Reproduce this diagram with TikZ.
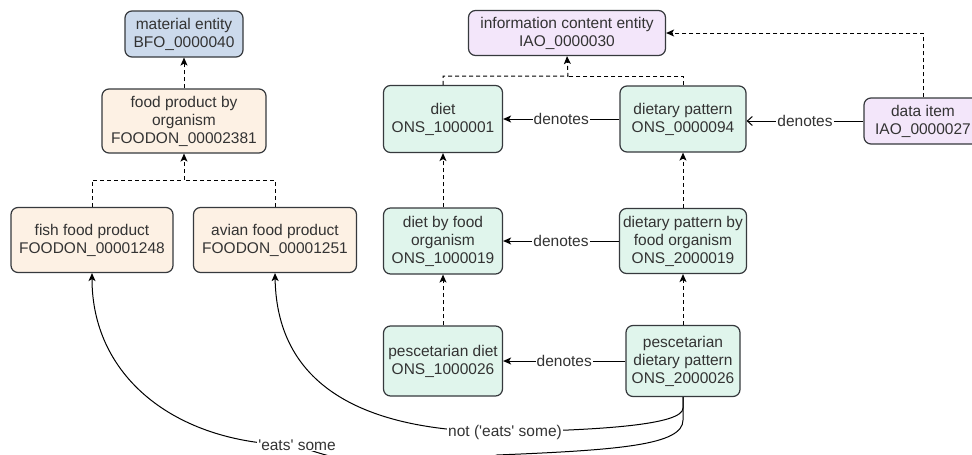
\documentclass[tikz,border=0pt]{standalone}
\usepackage{fontspec}
\setmainfont{Liberation Sans}
\usetikzlibrary{arrows,arrows.meta}
\definecolor{matfill}{HTML}{CCDAEC}
\definecolor{foodfill}{HTML}{FDF1E4}
\definecolor{infofill}{HTML}{F3E6FA}
\definecolor{dietfill}{HTML}{E0F5EC}
\definecolor{boxline}{HTML}{36393D}
\definecolor{txt}{HTML}{333333}

\begin{document}
\begin{tikzpicture}[x=1pt,y=-1pt,>={Stealth[length=8pt,width=7pt,inset=2pt]},line width=1pt,
    font=\fontsize{15.5}{18}\selectfont,
    class node/.style={rectangle,rounded corners=7pt,draw=boxline,line width=1.2pt,text=txt,align=center,inner sep=1pt},
    material node/.style={class node,fill=matfill},
    food node/.style={class node,fill=foodfill},
    info node/.style={class node,fill=infofill},
    diet node/.style={class node,fill=dietfill},
    label node/.style={fill=white,text=txt,inner sep=1pt},
    isa line/.style={dash pattern=on 4pt off 3pt},
    isa/.style={isa line,->}]
  \fill[white] (0,0) rectangle (972,455);
  \useasboundingbox (0,0) rectangle (972,455);
  % food side
  \node[material node,minimum width=118,minimum height=46] (material) at (184,34) {material entity\\BFO\_0000040};
  \node[food node,minimum width=164,minimum height=64] (food) at (184,121) {food product by\\organism\\FOODON\_00002381};
  \node[food node,minimum width=162,minimum height=65] (fish) at (92,240) {fish food product\\FOODON\_00001248};
  \node[food node,minimum width=163,minimum height=65] (avian) at (275,240) {avian food product\\FOODON\_00001251};
  % information side
  \node[info node,minimum width=197,minimum height=45] (info) at (567,33) {information content entity\\IAO\_0000030};
  \node[info node,minimum width=118,minimum height=46] (item) at (923,121) {data item\\IAO\_0000027};
  \node[diet node,minimum width=119,minimum height=67] (diet) at (443,119) {diet\\ONS\_1000001};
  \node[diet node,minimum width=126,minimum height=66] (pattern) at (683,119) {dietary pattern\\ONS\_0000094};
  \node[diet node,minimum width=119,minimum height=66] (dietorg) at (443,241) {diet by food\\organism\\ONS\_1000019};
  \node[diet node,minimum width=127,minimum height=65] (patternorg) at (683,241) {dietary pattern by\\food organism\\ONS\_2000019};
  \node[diet node,minimum width=119,minimum height=70] (pdiet) at (443,361) {pescetarian diet\\ONS\_1000026};
  \node[diet node,minimum width=114,minimum height=71] (ppattern) at (683,361) {pescetarian\\dietary pattern\\ONS\_2000026};
  \coordinate (foodjoin) at (184,180);
  \coordinate (infojoin) at (568,76);
  % subclass links
  \draw[isa] (material.south |- food.north) -- (material.south);
  \draw[isa] (fish.north) |- (foodjoin) -- (food.south);
  \draw[isa line] (avian.north) |- (foodjoin);
  \draw[isa] (diet.north) |- (infojoin) -- (info.south);
  \draw[isa line] (pattern.north) |- (infojoin);
  \draw[isa] (item.north) |- (info.east);
  \path[isa] (dietorg) edge (diet) (pdiet) edge (dietorg)
    (patternorg) edge (pattern) (ppattern) edge (patternorg);
  % denotes
  \path[->] (pattern) edge node[label node] (denA) {denotes} (diet)
    (patternorg) edge node[label node] (denB) {denotes} (dietorg)
    (ppattern) edge node[label node] (denC) {denotes} (pdiet);
  \path[-{Straight Barb[length=5pt,width=9pt]}] (item.west) edge node[label node] (denD) {denotes} (item.west -| pattern.east);
  % restrictions
  \draw[->] (ppattern.south) -- (683,408) .. controls (683,425) and (600,430) .. (505,432)
    node[label node] (noteats) {not (\textquotesingle eats\textquotesingle{} some)}
    .. controls (370,432) and (277,390) .. (avian.south);
  \draw[->] (ppattern.south) -- (683,420) .. controls (683,445) and (620,450) .. (497,455)
    .. controls (440,475) and (350,468) .. (297,445)
    node[label node] (eats) {\textquotesingle eats\textquotesingle{} some}
    .. controls (180,445) and (92,380) .. (fish.south);
\end{tikzpicture}
\end{document}
